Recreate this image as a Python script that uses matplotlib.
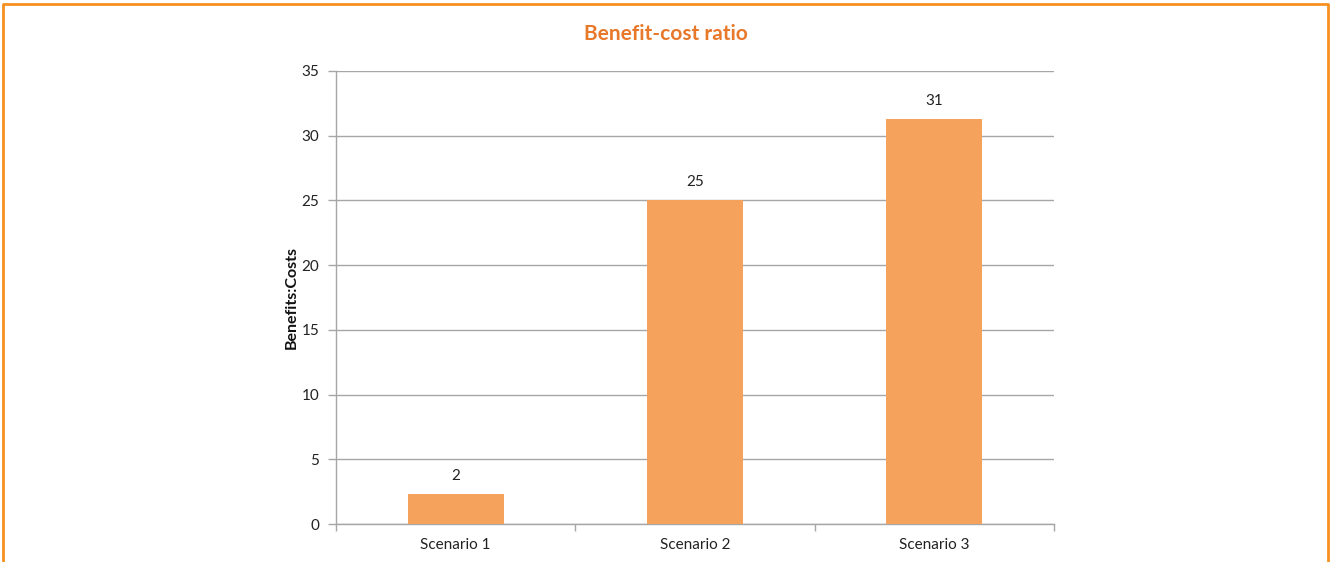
import matplotlib.pyplot as plt
from matplotlib.lines import Line2D

# benefit:cost ratio per scenario
scenarios = ['Scenario 1', 'Scenario 2', 'Scenario 3']
ratios = [2.3, 25.0, 31.3]
y_ticks = [0, 5, 10, 15, 20, 25, 30, 35]

ORANGE = '#F5A35C'
TITLE_ORANGE = '#E8782A'
BORDER = '#F7901E'
GRID = '#A6A6A6'

plt.rcParams['font.family'] = ['Lato', 'DejaVu Sans']

fig = plt.figure(figsize=(13.35, 5.62), dpi=100)
ax = fig.add_axes([0.2517, 0.0676, 0.5378, 0.8061])

x = list(range(len(scenarios)))
bars = ax.bar(x, ratios, width=0.40, color=ORANGE, zorder=3)
for rect, val in zip(bars, ratios):
    ax.annotate(f'{val:.0f}', (rect.get_x() + rect.get_width() / 2, val),
                xytext=(0, 8), textcoords='offset points',
                ha='center', va='bottom', fontsize=11, color='#222222')

ax.set_xlim(-0.5, len(scenarios) - 0.5)
ax.set_ylim(0, 35)
ax.set_yticks(y_ticks)
ax.set_xticks(x)
ax.set_xticklabels(scenarios)
ax.set_xticks([i - 0.5 for i in range(len(scenarios) + 1)], minor=True)

ax.yaxis.grid(True, color=GRID, linewidth=1.0, zorder=0)
ax.set_axisbelow(True)
for side in ['top', 'right']:
    ax.spines[side].set_visible(False)
for side in ['left', 'bottom']:
    ax.spines[side].set_color(GRID)
    ax.spines[side].set_linewidth(1.0)

ax.tick_params(axis='y', length=6, width=1, color=GRID, labelsize=11,
               labelcolor='#222222', pad=6)
ax.tick_params(axis='x', which='major', length=0, labelsize=11,
               labelcolor='#222222', pad=10)
ax.tick_params(axis='x', which='minor', length=5, width=1, color=GRID)

ax.set_ylabel('Benefits:Costs', fontsize=11.5, fontweight='bold',
              color='#111111', labelpad=2)

fig.text(0.499, 0.94, 'Benefit-cost ratio', ha='center', va='center',
         fontsize=15, fontweight='bold', color=TITLE_ORANGE)

# frame around the panel (open at the bottom)
fig.add_artist(Line2D([0.0025, 0.0025, 0.9945, 0.9945],
                      [0.0, 0.9925, 0.9925, 0.0],
                      transform=fig.transFigure, color=BORDER, linewidth=2))

fig.savefig('out.png', dpi=100)
